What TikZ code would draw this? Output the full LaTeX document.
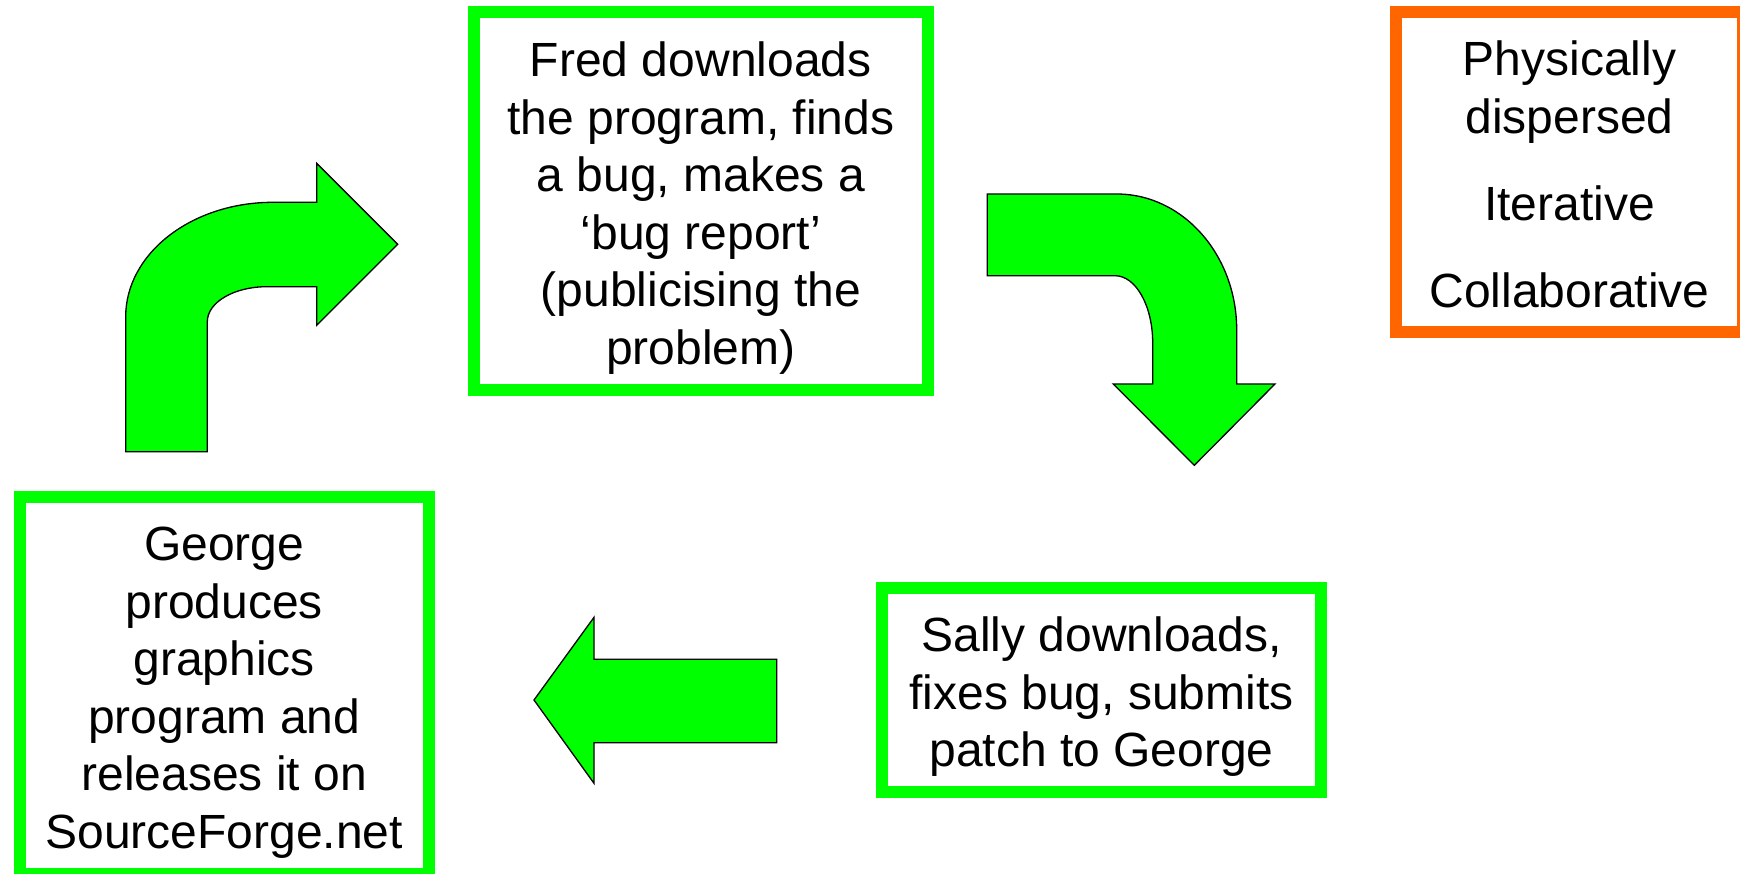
\documentclass[tikz,border=0pt]{standalone}
\usepackage{fontspec}
\setmainfont{Liberation Sans}
\usepackage{tikz}
\usepackage{xcolor}
\definecolor{boxgreen}{RGB}{0,255,0}
\definecolor{noteorange}{RGB}{255,102,0}
\newcommand{\linetop}{\rule{0pt}{49pt}}
\newcommand{\linebot}{\rule[-10pt]{0pt}{0pt}}

\begin{document}
\begin{tikzpicture}[x=1pt, y=-1pt,
        box/.style={rectangle, draw=boxgreen, line width=12pt, inner sep=0pt, align=center, font=\fontsize{48}{57.5}\selectfont},
        notebox/.style={box, draw=noteorange},
        bigarrow/.style={draw=black, line width=1.3pt, fill=boxgreen, line join=miter}
      ]
\useasboundingbox (0,0) rectangle (1740,873);

\node[box, minimum width=453.5pt, minimum height=377.5pt] (fred) at (700.75,200.75) {\linetop Fred downloads\\the program, finds\\a bug, makes a\\`bug report'\\(publicising the\\problem)\linebot};
      \node[box, minimum width=439pt, minimum height=204.5pt] (sally) at (1101.5,689.75) {\linetop Sally downloads,\\fixes bug, submits\\patch to George\linebot};
      \node[box, minimum width=408.5pt, minimum height=377pt] (george) at (224.25,685.2) {\linetop George\\produces\\graphics\\program and\\releases it on\\SourceForge.net\linebot};
      \node[notebox, minimum width=347pt, minimum height=320pt] (traits) at (1569.5,172) {\linetop Physically\\dispersed\\[29.5pt]Iterative\\[29.5pt]Collaborative\linebot};

\draw[bigarrow] (125.7,451.7) -- (125.7,316.7) arc[start angle=180, end angle=270, x radius=147.3, y radius=114.4] -- (316.7,202.3) -- (316.7,163.3) -- (397.7,244.3) -- (316.7,325.3) -- (316.7,286.7) -- (266.7,286.7) arc[start angle=270, end angle=180, x radius=59.4, y radius=35] -- (207.3,451.7) -- cycle;
      \draw[bigarrow] (987.3,194) -- (1116.7,194) arc[start angle=270, end angle=360, x radius=120, y radius=136] -- (1236.7,384) -- (1275,384) -- (1194.3,465.3) -- (1113.3,384) -- (1152.7,384) -- (1152.7,343) arc[start angle=0, end angle=-90, x radius=37.7, y radius=67.3] -- (987.3,275.7) -- cycle;
      \draw[bigarrow] (776.7,659.3) -- (594,659.3) -- (594,617.3) -- (534,700) -- (594,783.3) -- (594,742.7) -- (776.7,742.7) -- cycle;

      \end{tikzpicture}
\end{document}
